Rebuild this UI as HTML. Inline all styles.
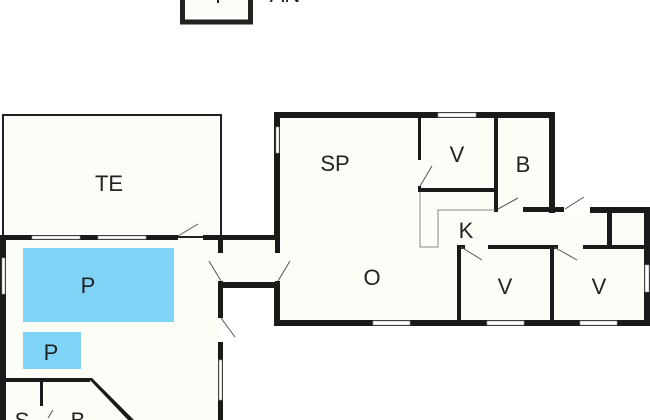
<!DOCTYPE html>
<html><head><style>body{margin:0;background:#fff}svg{display:block}text{font-family:"Liberation Sans",sans-serif;font-size:22px;fill:#222;text-anchor:middle}</style></head><body>
<svg width="650" height="420" viewBox="0 0 650 420" xmlns="http://www.w3.org/2000/svg">
<rect width="650" height="420" fill="#fff"/>
<!-- top box -->
<rect x="182.5" y="-10" width="68" height="32" fill="#fdfdf8" stroke="#222" stroke-width="5"/>
<line x1="218" y1="-2" x2="218" y2="3" stroke="#222" stroke-width="2"/>
<text x="285" y="2">AN</text>
<!-- fills -->
<rect x="3" y="115" width="218" height="122" fill="#fdfdf8" stroke="#222" stroke-width="2"/>
<rect x="0" y="238" width="221" height="182" fill="#fdfdf8"/>
<rect x="221" y="238" width="57" height="47" fill="#fdfdf8"/>
<rect x="277" y="115" width="275" height="208" fill="#fdfdf8"/>
<rect x="550" y="210" width="97" height="113" fill="#fdfdf8"/>
<g fill="#1a1a1a">
<!-- left building -->
<rect x="0" y="235" width="178" height="5"/>
<rect x="203" y="235" width="77" height="5"/>
<rect x="0" y="235" width="6" height="185"/>
<rect x="218" y="235" width="5" height="18"/>
<rect x="218" y="281" width="5" height="37"/>
<rect x="218" y="342" width="5" height="78"/>
<rect x="218" y="282" width="62" height="6"/>
<rect x="275" y="235" width="5" height="18"/>
<rect x="275" y="281" width="5" height="7"/>
<rect x="6" y="378" width="84" height="4"/>
<rect x="40" y="380" width="3" height="26"/>
<polygon points="88,378 92,378 134,420 128,420"/>
<!-- right building -->
<rect x="274" y="112" width="281" height="6"/>
<rect x="274" y="112" width="6" height="128"/>
<rect x="274" y="282" width="6" height="44"/>
<rect x="274" y="320" width="376" height="6"/>
<rect x="549" y="112" width="6" height="101"/>
<rect x="523" y="207" width="41" height="5"/>
<rect x="590" y="207" width="60" height="6"/>
<rect x="644" y="207" width="6" height="119"/>
<rect x="418" y="118" width="3" height="42"/>
<rect x="418" y="186" width="3" height="6"/>
<rect x="418" y="188" width="78" height="4"/>
<rect x="494" y="118" width="4" height="94"/>
<rect x="494" y="207" width="4" height="5"/>
<rect x="607" y="212" width="5" height="36"/>
<rect x="457" y="245" width="8" height="4"/>
<rect x="488" y="245" width="70" height="4"/>
<rect x="583" y="245" width="67" height="4"/>
<rect x="457" y="245" width="4" height="78"/>
<rect x="550" y="245" width="4" height="78"/>
</g>
<!-- windows -->
<g fill="#fff" stroke="#999" stroke-width="0.6">
<rect x="32" y="236" width="48" height="3"/>
<rect x="98" y="236" width="48" height="3"/>
<rect x="2" y="258" width="3" height="36"/>
<rect x="219" y="360" width="3" height="40"/>
<rect x="438" y="113" width="38" height="4"/>
<rect x="276" y="127" width="3" height="26"/>
<rect x="373" y="321" width="37" height="4"/>
<rect x="487" y="321" width="37" height="4"/>
<rect x="580" y="321" width="37" height="4"/>
<rect x="645" y="265" width="4" height="27"/>
</g>
<!-- doors swings -->
<g stroke="#555" stroke-width="1">
<line x1="178" y1="236" x2="198" y2="224"/>
<line x1="221" y1="281" x2="209" y2="261"/>
<line x1="278" y1="281" x2="290" y2="261"/>
<line x1="221" y1="318" x2="235" y2="337"/>
<line x1="420" y1="186" x2="432" y2="166"/>
<line x1="498" y1="209" x2="518" y2="198"/>
<line x1="565" y1="209" x2="584" y2="197"/>
<line x1="461" y1="247" x2="482" y2="260"/>
<line x1="554" y1="247" x2="577" y2="260"/>
<line x1="48" y1="418" x2="53" y2="410"/>
</g>
<polyline points="420,192 420,247 438,247 438,210 495,210" fill="none" stroke="#888" stroke-width="1"/>
<rect x="23" y="248" width="151" height="74" fill="#7fd3f7"/>
<rect x="23" y="332" width="58" height="37" fill="#7fd3f7"/>
<text x="109" y="191">TE</text>
<text x="88" y="293">P</text>
<text x="51" y="360">P</text>
<text x="22" y="428">S</text>
<text x="78" y="428">B</text>
<text x="335" y="171">SP</text>
<text x="457" y="162">V</text>
<text x="523" y="172">B</text>
<text x="466" y="238">K</text>
<text x="372" y="285">O</text>
<text x="505" y="294">V</text>
<text x="599" y="294">V</text>
</svg>
</body></html>
